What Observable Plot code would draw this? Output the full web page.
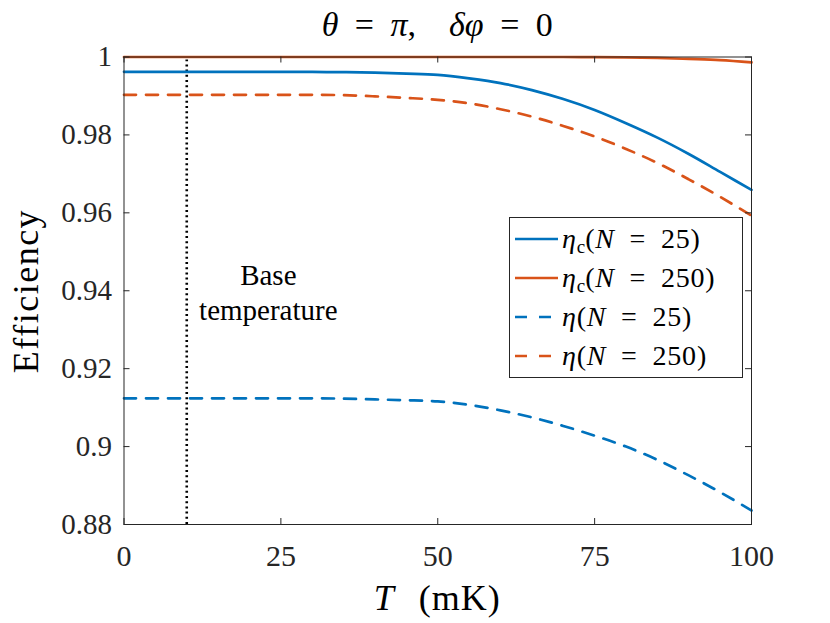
<!DOCTYPE html>
<html>
<head>
<meta charset="utf-8">
<script src="https://cdn.jsdelivr.net/npm/d3@7"></script>
<script src="https://cdn.jsdelivr.net/npm/@observablehq/plot@0.6"></script>
<style>
  body { margin: 0; background: white; }
  #wrap { position: relative; width: 830px; height: 623px; font-family: "Times New Roman", "Liberation Serif", "DejaVu Serif", serif; color: #000; overflow: hidden; }
  #chart { position: absolute; left: 0; top: 0; }
  .ov { position: absolute; white-space: nowrap; line-height: 1; }
  #legend { position: absolute; left: 509px; top: 217px; width: 234px; height: 161px; box-sizing: border-box;
            border: 1px solid #262626; background: white; padding-top: 1px; }
  .row { height: 39px; display: flex; align-items: center; font-size: 28px; word-spacing: 7px; letter-spacing: 0.8px; }
  .row svg { margin-left: 5px; margin-right: 4px; flex: none; }
  sub { font-size: 0.68em; vertical-align: -0.25em; line-height: 0; letter-spacing: 0; }
  #chart svg text { font-family: "Times New Roman", "Liberation Serif", "DejaVu Serif", serif; }
</style>
</head>
<body>
<div id="wrap">
  <div id="chart"></div>
  <div class="ov" id="title" style="left:123.5px; width:627.5px; text-align:center; top:8px; font-size:34px; word-spacing:8px;">
    <i>θ</i> = <i>π</i>, &nbsp;<i>δφ</i> = 0
  </div>
  <div class="ov" id="ylabel" style="left:26px; top:291px; font-size:36px; letter-spacing:1.5px; transform: translate(-50%,-50%) rotate(-90deg);">Efficiency</div>
  <div class="ov" id="xlabel" style="left:123.5px; width:627.5px; text-align:center; top:580px; font-size:36px; word-spacing:14px; letter-spacing:1px;"><i>T</i> (mK)</div>
  <div id="legend"></div>
</div>
<script>
// ---- data ----
const T        = [0, 10, 20, 30, 35, 40, 45, 50, 55, 60, 65, 70, 75, 80, 85, 90, 95, 100];
const etaC25   = [0.9962, 0.9962, 0.9962, 0.9962, 0.9961, 0.9960, 0.99575, 0.9954, 0.9945, 0.9933, 0.9915, 0.9892, 0.9864, 0.9830, 0.9793, 0.9751, 0.9705, 0.9659];
const etaC250  = [1.0, 1.0, 1.0, 1.0, 1.0, 1.0, 1.0, 1.0, 1.0, 1.0, 1.0, 1.0, 0.99995, 0.9999, 0.99975, 0.9995, 0.9992, 0.9986];
const eta25    = [0.9124, 0.9124, 0.9124, 0.9124, 0.9123, 0.9121, 0.9119, 0.9116, 0.9107, 0.9093, 0.9075, 0.9053, 0.9028, 0.9000, 0.8966, 0.8926, 0.8883, 0.8836];
const eta250   = [0.9903, 0.9903, 0.9903, 0.9903, 0.9902, 0.9899, 0.9895, 0.9890, 0.9881, 0.9866, 0.9847, 0.9823, 0.9796, 0.9764, 0.9728, 0.9686, 0.9641, 0.9593];
const xTicks   = [0, 25, 50, 75, 100];
const yTicks   = [0.88, 0.90, 0.92, 0.94, 0.96, 0.98, 1.0];
const baseT    = [10];
const annText  = ["Base\ntemperature"];
const annX     = [23];
const annY     = [0.9398];

const seriesNames = ["ηc(N = 25)", "ηc(N = 250)", "η(N = 25)", "η(N = 250)"];
const seriesVals  = [etaC25, etaC250, eta25, eta250];
const seriesColor = ["#0072BD", "#D95319", "#0072BD", "#D95319"];
const seriesDash  = [null, null, "12,10", "12,10"];
const legendHTML  = [
  "<i>η</i><sub>c</sub>(<i>N</i> = 25)",
  "<i>η</i><sub>c</sub>(<i>N</i> = 250)",
  "<i>η</i>(<i>N</i> = 25)",
  "<i>η</i>(<i>N</i> = 250)"
];

// ---- layout ----
const W = 830, H = 623;
const mL = 123.5, mR = 79, mT = 56.5, mB = 99;
const plotW = W - mL - mR, plotH = H - mT - mB;
const tickLen = 6;
const axisColor = "#262626";
const lw = 2.7;
const serif = "'Times New Roman', 'Liberation Serif', 'DejaVu Serif', serif";

const lineMarks = seriesVals.map((vals, k) =>
  Plot.line(T.map((t, i) => ({T: t, v: vals[i]})), {
    x: "T", y: "v", stroke: seriesColor[k], strokeWidth: lw,
    strokeDasharray: seriesDash[k] || undefined, curve: "monotone-x"
  })
);
const plot = Plot.plot({
  width: W, height: H,
  marginLeft: mL, marginRight: mR, marginTop: mT, marginBottom: mB,
  x: {domain: [0, 100], label: null},
  y: {domain: [0.88, 1.0], label: null},
  style: {fontFamily: serif, fontSize: "30px", color: axisColor, background: "white", overflow: "visible"},
  marks: [
    Plot.ruleX(baseT, {x: d => d, y1: 0.88, y2: 1.0, insetBottom: -3, stroke: "black", strokeWidth: 2.6, strokeDasharray: "2,3.2"}),
    Plot.text(annText, {x: (d, i) => annX[i], y: (d, i) => annY[i], text: d => d, fontSize: 29, fontFamily: serif, fill: "black", lineHeight: 1.2, textAnchor: "middle"}),
    ...lineMarks,
    Plot.frame({stroke: axisColor, strokeWidth: 1}),
    Plot.tickX(xTicks, {x: d => d, insetTop: plotH - tickLen, stroke: axisColor, strokeWidth: 1}),
    Plot.tickX(xTicks, {x: d => d, insetBottom: plotH - tickLen, stroke: axisColor, strokeWidth: 1}),
    Plot.tickY(yTicks, {y: d => d, insetRight: plotW - tickLen, stroke: axisColor, strokeWidth: 1}),
    Plot.tickY(yTicks, {y: d => d, insetLeft: plotW - tickLen, stroke: axisColor, strokeWidth: 1}),
    Plot.axisX({ticks: xTicks, tickSize: 0, tickPadding: 20, label: null, fontFamily: serif, tickFormat: d => String(d)}),
    Plot.axisY({ticks: yTicks, tickSize: 0, tickPadding: 12, label: null, fontSize: 29, fontFamily: serif, tickFormat: d => String(+d.toFixed(2))})
  ]
});
document.getElementById("chart").appendChild(plot);

// ---- legend ----
const leg = document.getElementById("legend");
seriesNames.forEach((name, k) => {
  const row = document.createElement("div");
  row.className = "row";
  row.setAttribute("aria-label", name);
  const dash = seriesDash[k] ? 'stroke-dasharray="12,12"' : "";
  row.innerHTML = `<svg width="43" height="10"><line x1="0" x2="43" y1="5" y2="5" stroke="${seriesColor[k]}" stroke-width="${lw}" ${dash}/></svg><span>${legendHTML[k]}</span>`;
  leg.appendChild(row);
});
</script>
</body>
</html>
